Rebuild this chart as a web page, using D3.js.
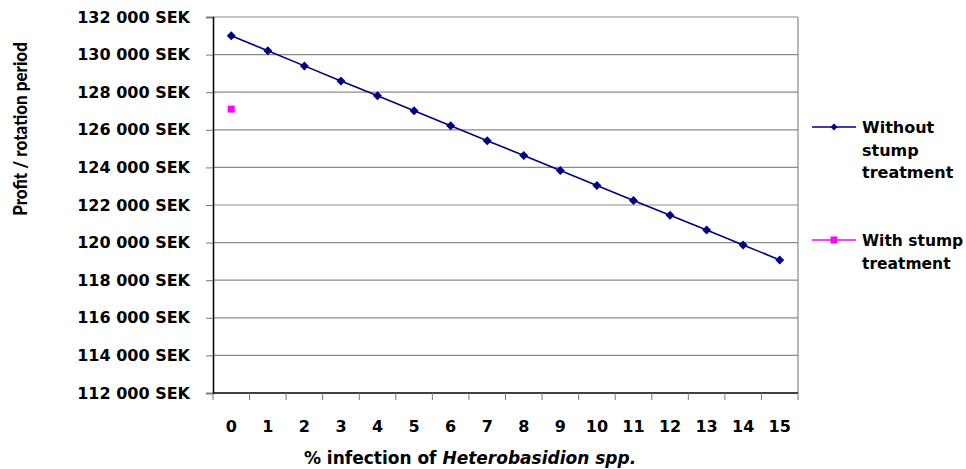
<!DOCTYPE html>
<html>
<head>
<meta charset="utf-8">
<script src="https://cdn.jsdelivr.net/npm/d3@7"></script>
<style>
  html, body { margin: 0; padding: 0; background: #fff; }
  svg { display: block; }
  text { font-family: "DejaVu Sans", sans-serif; font-weight: bold; fill: #000; }
  text.ytitle { font-family: Lato, sans-serif; font-weight: 900; }
</style>
</head>
<body>
<svg id="chart" width="966" height="469"></svg>
<script>
// Infection levels (%) on the category axis
const infection = [0, 1, 2, 3, 4, 5, 6, 7, 8, 9, 10, 11, 12, 13, 14, 15];
// Profit per rotation period without stump treatment (SEK)
const withoutTreatment = [131000, 130210, 129400, 128600, 127810, 127010, 126220, 125420,
                          124630, 123830, 123040, 122240, 121450, 120670, 119870, 119080];
// Profit with stump treatment, at 0 % infection only (SEK)
const withTreatment = [{ infection: 0, value: 127100 }];
// Value axis ticks
const yTicks = [112000, 114000, 116000, 118000, 120000, 122000, 124000, 126000, 128000, 130000, 132000];
const seriesNames = ["Without stump treatment", "With stump treatment"];

const svg = d3.select("#chart");
const m = { left: 213, right: 798, top: 17, bottom: 393 };

const x = d3.scaleBand().domain(infection).range([m.left, m.right]).paddingInner(0).paddingOuter(0);
const y = d3.scaleLinear().domain([112000, 132000]).range([m.bottom, m.top]);
const cx = d => x(d) + x.bandwidth() / 2;
const fmt = v => d3.format(",")(v).replace(/,/g, " ") + " SEK";

// Horizontal gridlines
svg.append("g")
  .selectAll("line")
  .data(yTicks.filter(t => t !== 112000))
  .join("line")
  .attr("x1", m.left).attr("x2", m.right)
  .attr("y1", d => y(d)).attr("y2", d => y(d))
  .attr("stroke", "#8a8a8a").attr("stroke-width", 1.2);

// Plot area right border
svg.append("line")
  .attr("x1", m.right).attr("x2", m.right).attr("y1", m.top).attr("y2", m.bottom)
  .attr("stroke", "#8a8a8a").attr("stroke-width", 1.2);

// Y axis
const yAxis = svg.append("g")
  .attr("transform", `translate(${m.left},0)`)
  .call(d3.axisLeft(y).tickValues(yTicks).tickFormat(fmt).tickSize(7).tickPadding(16));
yAxis.select(".domain").attr("stroke", "#000").attr("stroke-width", 1.5);
yAxis.selectAll(".tick line").attr("stroke", "#777");
yAxis.selectAll("text")
  .attr("font-size", 16)
  .attr("font-family", "'DejaVu Sans', sans-serif")
  .attr("font-weight", "bold").attr("fill", "#000");

// X axis: ticks on category boundaries
const boundaries = infection.map(d => x(d)).concat([m.right]);
const xg = svg.append("g");
xg.append("line")
  .attr("x1", m.left).attr("x2", m.right).attr("y1", m.bottom).attr("y2", m.bottom)
  .attr("stroke", "#000").attr("stroke-width", 1.5);
xg.selectAll("line.tk")
  .data(boundaries)
  .join("line").attr("class", "tk")
  .attr("x1", d => d).attr("x2", d => d)
  .attr("y1", m.bottom).attr("y2", m.bottom + 7)
  .attr("stroke", "#777");
xg.selectAll("text")
  .data(infection)
  .join("text")
  .attr("x", d => cx(d)).attr("y", 432)
  .attr("text-anchor", "middle")
  .attr("font-size", 16)
  .text(d => d);

// Line series with diamond markers
const navy = "#000080";
svg.append("path")
  .datum(withoutTreatment)
  .attr("fill", "none").attr("stroke", navy).attr("stroke-width", 1.6)
  .attr("d", d3.line().x((d, i) => cx(infection[i])).y(d => y(d)));
svg.append("g")
  .selectAll("path")
  .data(withoutTreatment)
  .join("path")
  .attr("transform", (d, i) => `translate(${cx(infection[i])},${y(d)})`)
  .attr("d", "M0,-4.5L4.5,0L0,4.5L-4.5,0Z")
  .attr("fill", navy);

// Single point with stump treatment
const pink = "#ff00ff";
svg.append("g")
  .selectAll("rect")
  .data(withTreatment)
  .join("rect")
  .attr("x", d => cx(d.infection) - 3.5).attr("y", d => y(d.value) - 3.5)
  .attr("width", 7).attr("height", 7)
  .attr("fill", pink);

// Axis titles
svg.append("text")
  .attr("class", "ytitle")
  .attr("transform", "translate(27,129) rotate(-90) scale(1,1.12)")
  .attr("text-anchor", "middle")
  .attr("font-size", 17)
  .text("Profit / rotation period");
const xt = svg.append("text")
  .attr("x", 470).attr("y", 464)
  .attr("text-anchor", "middle")
  .attr("font-size", 17);
xt.append("tspan").text("% infection of ");
xt.append("tspan").attr("font-style", "italic").text("Heterobasidion spp.");

// Legend
const legend = svg.append("g");
const leg1 = legend.append("g").attr("transform", "translate(812,127)");
leg1.append("line").attr("x1", 0).attr("x2", 44).attr("stroke", navy).attr("stroke-width", 1.6);
leg1.append("path").attr("transform", "translate(22,0)").attr("d", "M0,-3.5L3.5,0L0,3.5L-3.5,0Z").attr("fill", navy);
leg1.append("text").attr("y", 6).attr("font-size", 16)
  .selectAll("tspan").data(["Without", "stump", "treatment"]).join("tspan")
  .attr("x", 50).attr("dy", (d, i) => i === 0 ? 0 : 22.5).text(d => d);

const leg2 = legend.append("g").attr("transform", "translate(812,240)");
leg2.append("line").attr("x1", 0).attr("x2", 44).attr("stroke", pink).attr("stroke-width", 1.6);
leg2.append("rect").attr("x", 18.5).attr("y", -3.5).attr("width", 7).attr("height", 7).attr("fill", pink);
leg2.append("text").attr("y", 6).attr("font-size", 15.5)
  .selectAll("tspan").data(["With stump", "treatment"]).join("tspan")
  .attr("x", 50).attr("dy", (d, i) => i === 0 ? 0 : 22.5).text(d => d);
</script>
</body>
</html>
